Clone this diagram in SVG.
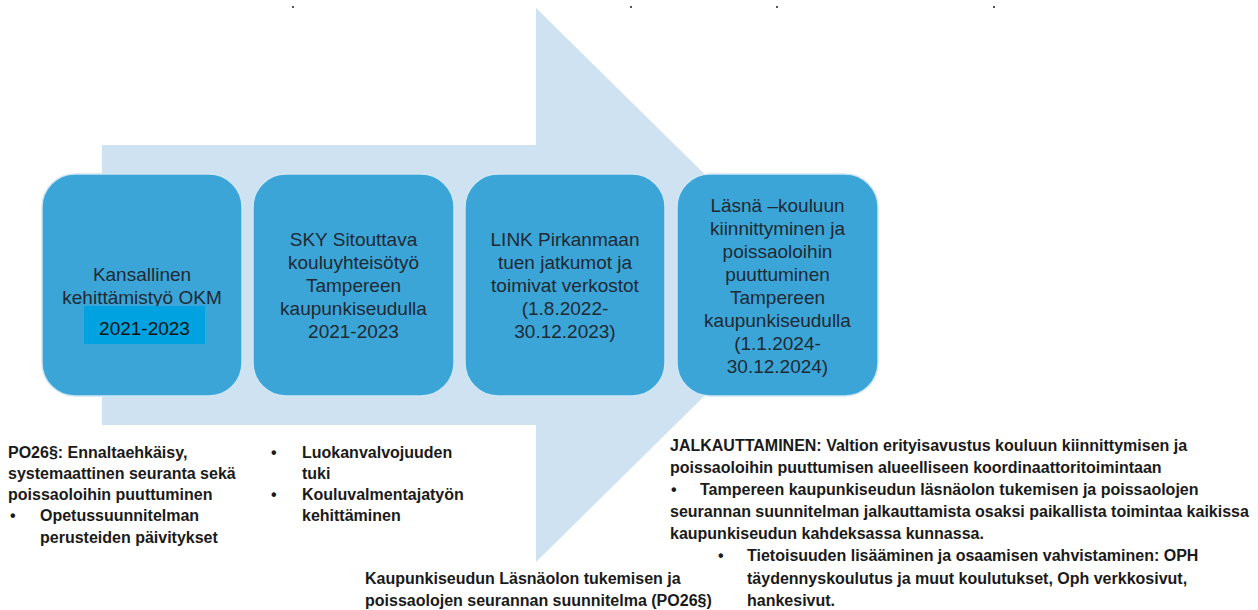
<svg xmlns="http://www.w3.org/2000/svg" width="1258" height="610" viewBox="0 0 1258 610">
  <style>
    .box { fill: #3ba5d8; stroke: #cfe6f4; stroke-width: 1.5; }
    .bt { font-family: "Liberation Sans", Arial, sans-serif; font-size: 19px; fill: #1f2a33; text-anchor: middle; }
    .tx { font-family: "Liberation Sans", Arial, sans-serif; font-size: 16px; font-weight: bold; fill: #1a1a1a; }
    .mark { fill: #555; }
  </style>
  <rect width="1258" height="610" fill="#ffffff"/>
  <g id="top-marks">
    <rect class="mark" x="292" y="6" width="2" height="2"/>
    <rect class="mark" x="630" y="6" width="2" height="2"/>
    <rect class="mark" x="776" y="6" width="2" height="2"/>
    <rect class="mark" x="993" y="6" width="2" height="2"/>
  </g>
  <g id="arrow">
    <polygon points="102,145 536,145 536,8 817,285 536,562 536,425 102,425" fill="#cfe2f1"/>
  </g>
  <g id="connectors"></g>
  <g id="node1">
    <rect class="box" x="42" y="174" width="200" height="222" rx="33" ry="33"/>
    <text class="bt" x="142" y="280.5">Kansallinen</text>
    <text class="bt" x="142" y="303.5">kehittämistyö OKM</text>
    <rect x="84" y="306" width="121" height="38" fill="#00a3e0"/>
    <text class="bt" x="144.5" y="335" style="fill:#111">2021-2023</text>
  </g>
  <g id="node2">
    <rect class="box" x="253" y="174" width="201" height="222" rx="33" ry="33"/>
    <text class="bt" x="353.5" y="246">SKY Sitouttava</text>
    <text class="bt" x="353.5" y="269">kouluyhteisötyö</text>
    <text class="bt" x="353.5" y="292">Tampereen</text>
    <text class="bt" x="353.5" y="315">kaupunkiseudulla</text>
    <text class="bt" x="353.5" y="338">2021-2023</text>
  </g>
  <g id="node3">
    <rect class="box" x="465" y="174" width="200" height="222" rx="33" ry="33"/>
    <text class="bt" x="565" y="246">LINK Pirkanmaan</text>
    <text class="bt" x="565" y="269">tuen jatkumot ja</text>
    <text class="bt" x="565" y="292">toimivat verkostot</text>
    <text class="bt" x="565" y="315">(1.8.2022-</text>
    <text class="bt" x="565" y="338">30.12.2023)</text>
  </g>
  <g id="node4">
    <rect class="box" x="677" y="174" width="201" height="222" rx="33" ry="33"/>
    <text class="bt" x="777.5" y="211.5">Läsnä –kouluun</text>
    <text class="bt" x="777.5" y="234.5">kiinnittyminen ja</text>
    <text class="bt" x="777.5" y="257.5">poissaoloihin</text>
    <text class="bt" x="777.5" y="280.5">puuttuminen</text>
    <text class="bt" x="777.5" y="303.5">Tampereen</text>
    <text class="bt" x="777.5" y="326.5">kaupunkiseudulla</text>
    <text class="bt" x="777.5" y="349.5">(1.1.2024-</text>
    <text class="bt" x="777.5" y="372.5">30.12.2024)</text>
  </g>
  <g id="text-left">
    <text class="tx" x="8" y="457.5">PO26§: Ennaltaehkäisy,</text>
    <text class="tx" x="8" y="478.8">systemaattinen seuranta sekä</text>
    <text class="tx" x="8" y="500.1">poissaoloihin puuttuminen</text>
    <text class="tx" x="10" y="521.4">•</text>
    <text class="tx" x="40" y="521.4">Opetussuunnitelman</text>
    <text class="tx" x="40" y="542.7">perusteiden päivitykset</text>
  </g>
  <g id="text-middle-left">
    <text class="tx" x="271" y="457.5">•</text>
    <text class="tx" x="302" y="457.5">Luokanvalvojuuden</text>
    <text class="tx" x="302" y="478.8">tuki</text>
    <text class="tx" x="271" y="500.1">•</text>
    <text class="tx" x="302" y="500.1">Kouluvalmentajatyön</text>
    <text class="tx" x="302" y="521.4">kehittäminen</text>
  </g>
  <g id="text-bottom">
    <text class="tx" x="365" y="583.6">Kaupunkiseudun Läsnäolon tukemisen ja</text>
    <text class="tx" x="365" y="605.7">poissaolojen seurannan suunnitelma (PO26§)</text>
  </g>
  <g id="text-right">
    <text class="tx" x="670" y="450.7">JALKAUTTAMINEN: Valtion erityisavustus kouluun kiinnittymisen ja</text>
    <text class="tx" x="670" y="472.9">poissaoloihin puuttumisen alueelliseen koordinaattoritoimintaan</text>
    <text class="tx" x="671" y="495">•</text>
    <text class="tx" x="700" y="495">Tampereen kaupunkiseudun läsnäolon tukemisen ja poissaolojen</text>
    <text class="tx" x="670" y="517.1">seurannan suunnitelman jalkauttamista osaksi paikallista toimintaa kaikissa</text>
    <text class="tx" x="670" y="539.3">kaupunkiseudun kahdeksassa kunnassa.</text>
    <text class="tx" x="718" y="561.4">•</text>
    <text class="tx" x="747" y="561.4">Tietoisuuden lisääminen ja osaamisen vahvistaminen: OPH</text>
    <text class="tx" x="747" y="583.6">täydennyskoulutus ja muut koulutukset, Oph verkkosivut,</text>
    <text class="tx" x="747" y="605.7">hankesivut.</text>
  </g>
</svg>
